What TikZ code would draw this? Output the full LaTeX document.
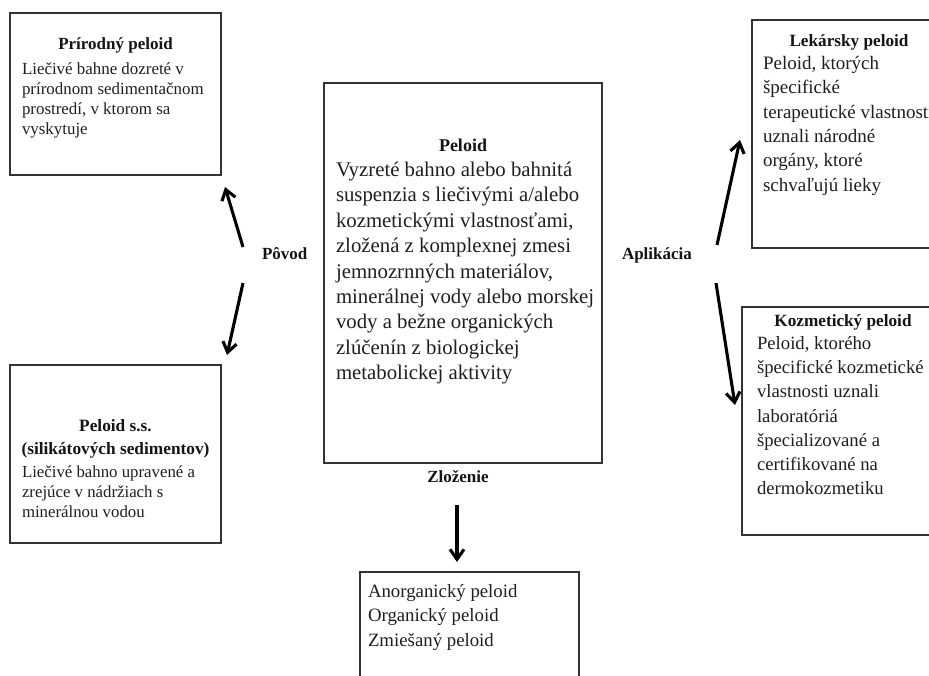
\documentclass[tikz,border=0pt]{standalone}
\usepackage{fontspec}
\setmainfont{Liberation Serif}
\usetikzlibrary{arrows.meta}
\begin{document}
\begin{tikzpicture}[x=1pt,y=-1pt,
  box/.style={draw=black!80, line width=1.4pt, fill=white, anchor=north west, inner sep=0pt, outer sep=0pt},
  txt/.style={text=black!88, inner sep=0pt, outer sep=0pt, align=left, anchor=base west},
  ttl/.style={text=black!92, inner sep=0pt, outer sep=0pt, align=center, anchor=base},
  lbl/.style={text=black!92, inner sep=0pt, outer sep=0pt, anchor=base west, font=\fontsize{17}{20}\selectfont\bfseries},
  arr/.style={draw=black, line width=3.1pt, -{Straight Barb[length=10pt,width=14pt]}}]
\useasboundingbox (0,0) rectangle (929,675);
\clip (0,0) rectangle (929,675);
\fill[white] (0,0) rectangle (929,675);

% boxes
\node[box, minimum width=211pt, minimum height=162pt] (prir) at (10,13) {};
\node[box, minimum width=278pt, minimum height=380pt] (peloid) at (324,83) {};
\node[box, minimum width=190pt, minimum height=228pt] (lek) at (752,20) {};
\node[box, minimum width=200pt, minimum height=228pt] (koz) at (742,307) {};
\node[box, minimum width=211pt, minimum height=178pt] (ss) at (10,365) {};
\node[box, minimum width=219pt, minimum height=130pt] (zlo) at (360,572) {};

% (multi-line nodes: base = baseline of last line)
% Prirodny peloid
\node[ttl, font=\fontsize{17}{20}\selectfont\bfseries] (prirT) at (115.5,49) {Prírodný peloid};
\node[txt, font=\fontsize{16.9}{20}\selectfont] (prirB) at (22,134) {Liečivé bahne dozreté v\\prírodnom sedimentačnom\\prostredí, v ktorom sa\\vyskytuje};

% Peloid
\node[ttl, font=\fontsize{18}{22}\selectfont\bfseries] (pelT) at (463,151) {Peloid};
\node[txt, font=\fontsize{20.8}{25.4}\selectfont] (pelB) at (336,379.7) {Vyzreté bahno alebo bahnitá\\suspenzia s liečivými a/alebo\\kozmetickými vlastnosťami,\\zložená z komplexnej zmesi\\jemnozrnných materiálov,\\minerálnej vody alebo morskej\\vody a bežne organických\\zlúčenín z biologickej\\metabolickej aktivity};

% Lekarsky peloid
\node[ttl, font=\fontsize{17.2}{20}\selectfont\bfseries] (lekT) at (849,46) {Lekársky peloid};
\node[txt, font=\fontsize{19}{24.3}\selectfont] (lekB) at (763,191) {Peloid, ktorých\\špecifické\\terapeutické vlastnosti\\uznali národné\\orgány, ktoré\\schvaľujú lieky};

% Kozmeticky peloid
\node[ttl, font=\fontsize{17.2}{20}\selectfont\bfseries] (kozT) at (843,326) {Kozmetický peloid};
\node[txt, font=\fontsize{18.7}{24.2}\selectfont] (kozB) at (757,494.7) {Peloid, ktorého\\špecifické kozmetické\\vlastnosti uznali\\laboratóriá\\špecializované a\\certifikované na\\dermokozmetiku};

% Peloid s.s.
\node[ttl, font=\fontsize{17.3}{23}\selectfont\bfseries] (ssT) at (115.5,454) {Peloid s.s.\\(silikátových sedimentov)};
\node[txt, font=\fontsize{16.8}{20}\selectfont] (ssB) at (22,517) {Liečivé bahno upravené a\\zrejúce v nádržiach s\\minerálnou vodou};

% Zlozenie box
\node[txt, font=\fontsize{18.8}{24.2}\selectfont] (zloB) at (368,646.1) {Anorganický peloid\\Organický peloid\\Zmiešaný peloid};

% labels
\node[lbl] (povod) at (262,259) {Pôvod};
\node[lbl] (aplik) at (622,259) {Aplikácia};
\node[lbl, anchor=base] (zloz) at (458,482) {Zloženie};

% arrow ends
\coordinate (pu1) at (243,247); \coordinate (pu2) at (225,187);
\coordinate (pd1) at (243,283); \coordinate (pd2) at (227,355);
\coordinate (au1) at (717,245); \coordinate (au2) at (740,140);
\coordinate (ad1) at (716,283); \coordinate (ad2) at (735,405);
\coordinate (z1) at (457,505); \coordinate (z2) at (457,562);

\draw[arr] (pu1) -- (pu2);
\draw[arr] (pd1) -- (pd2);
\draw[arr] (au1) -- (au2);
\draw[arr] (ad1) -- (ad2);
\draw[arr] (z1) -- (z2);
\end{tikzpicture}
\end{document}
